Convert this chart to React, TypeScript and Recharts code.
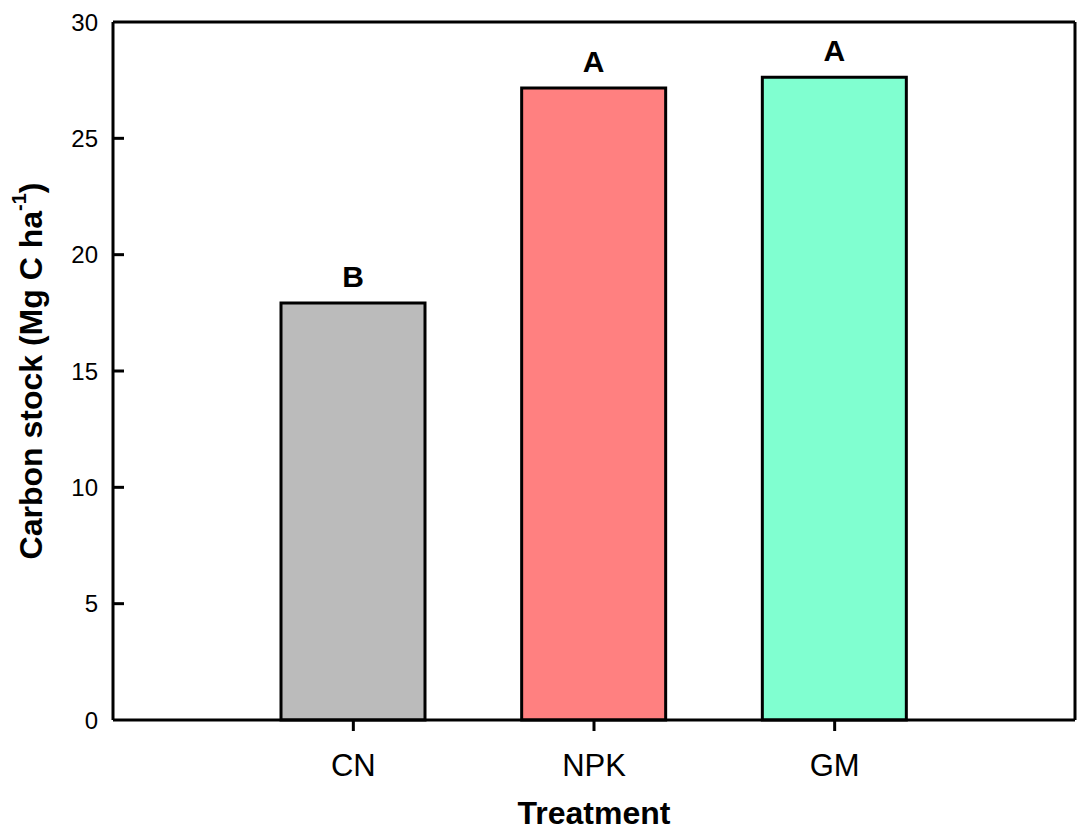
import { Bar, BarChart, Cell, XAxis, YAxis } from 'recharts';

const treatments = ['CN', 'NPK', 'GM'];
const carbonStock = [17.92, 27.16, 27.63];
const groupLetters = ['B', 'A', 'A'];
const barColors = ['#bbbbbb', '#ff8080', '#80ffd0'];
const yTicks = [0, 5, 10, 15, 20, 25, 30];

const data = treatments.map((name, i) => ({
  name,
  stock: carbonStock[i],
  letter: groupLetters[i]
}));

const FONT = '"Liberation Sans", Arial, Helvetica, sans-serif';
const WIDTH = 1088;
const HEIGHT = 835;
const PLOT_LEFT = 113;
const PLOT_TOP = 22;
const PLOT_RIGHT = 1075;
const PLOT_BOTTOM = 720;

const YTick = ({ y, payload }: any) => (
  <g>
    {payload.value > 0 && payload.value < 30 && (
      <line x1={PLOT_LEFT} x2={PLOT_LEFT + 11} y1={y} y2={y} stroke="#000" strokeWidth={3} />
    )}
    <text
      x={PLOT_LEFT - 15}
      y={y}
      textAnchor="end"
      dominantBaseline="central"
      fontFamily={FONT}
      fontSize={24}
      fill="#000"
    >
      {payload.value}
    </text>
  </g>
);

const XTick = ({ x, payload }: any) => (
  <g>
    <line x1={x} x2={x} y1={PLOT_BOTTOM} y2={PLOT_BOTTOM + 11} stroke="#000" strokeWidth={3} />
    <text
      x={x}
      y={PLOT_BOTTOM + 45}
      textAnchor="middle"
      dominantBaseline="central"
      fontFamily={FONT}
      fontSize={31}
      fill="#000"
    >
      {payload.value}
    </text>
  </g>
);

const YLabel = () => {
  const cx = 31;
  const cy = (PLOT_TOP + PLOT_BOTTOM) / 2;
  return (
    <text
      x={cx}
      y={cy}
      transform={`rotate(-90, ${cx}, ${cy})`}
      textAnchor="middle"
      dominantBaseline="central"
      fontFamily={FONT}
      fontSize={32}
      fontWeight="bold"
      fill="#000"
    >
      Carbon stock (Mg C ha
      <tspan fontSize={20} dy={-12}>-1</tspan>
      <tspan dy={12}>)</tspan>
    </text>
  );
};

const XLabel = () => (
  <text
    x={(PLOT_LEFT + PLOT_RIGHT) / 2}
    y={813}
    textAnchor="middle"
    dominantBaseline="central"
    fontFamily={FONT}
    fontSize={32}
    fontWeight="bold"
    fill="#000"
  >
    Treatment
  </text>
);

const LetterLabel = ({ x, y, width, index }: any) => (
  <text
    x={x + width / 2}
    y={y - 16}
    textAnchor="middle"
    fontFamily={FONT}
    fontSize={30}
    fontWeight="bold"
    fill="#000"
  >
    {groupLetters[index]}
  </text>
);

const axisLine = { stroke: '#000', strokeWidth: 3 };

export default function App() {
  return (
    <div style={{ position: 'absolute', left: 0, top: 0, background: '#fff' }}>
      <BarChart
        width={WIDTH}
        height={HEIGHT}
        data={data}
        margin={{ top: PLOT_TOP - 1, right: WIDTH - PLOT_RIGHT - 1, bottom: 0, left: 0 }}
      >
        <XAxis
          dataKey="name"
          height={HEIGHT - PLOT_BOTTOM}
          padding={{ left: 120, right: 120 }}
          tickLine={false}
          axisLine={axisLine}
          tick={<XTick />}
          interval={0}
          label={<XLabel />}
        />
        <XAxis
          xAxisId="top"
          dataKey="name"
          orientation="top"
          height={1}
          padding={{ left: 120, right: 120 }}
          tick={false}
          tickLine={false}
          axisLine={axisLine}
        />
        <YAxis
          width={PLOT_LEFT}
          domain={[0, 30]}
          ticks={yTicks}
          tickLine={false}
          axisLine={axisLine}
          tick={<YTick />}
          interval={0}
          label={<YLabel />}
        />
        <YAxis
          yAxisId="right"
          orientation="right"
          width={1}
          domain={[0, 30]}
          tick={false}
          tickLine={false}
          axisLine={axisLine}
        />
        <Bar
          dataKey="stock"
          barSize={144}
          stroke="#000"
          strokeWidth={3}
          isAnimationActive={false}
          label={<LetterLabel />}
        >
          {data.map((d, i) => (
            <Cell key={d.name} fill={barColors[i]} />
          ))}
        </Bar>
      </BarChart>
    </div>
  );
}
